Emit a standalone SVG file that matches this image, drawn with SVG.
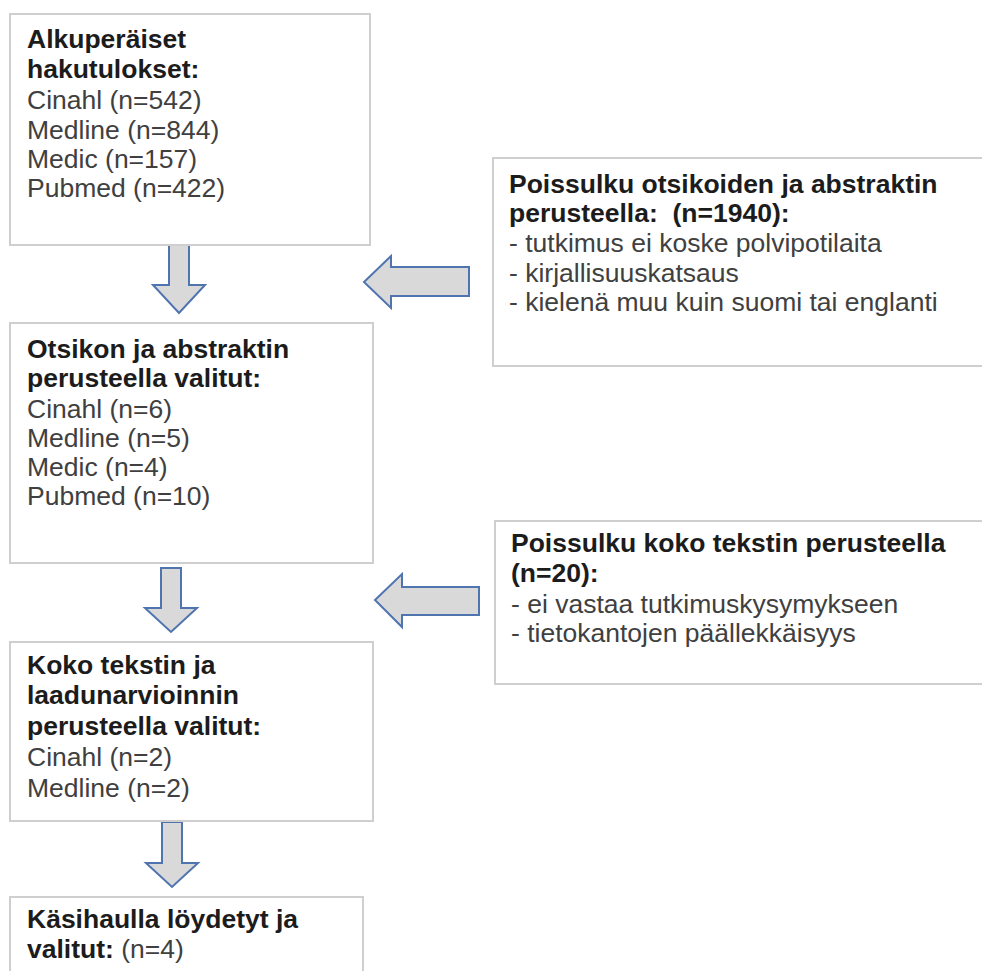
<svg xmlns="http://www.w3.org/2000/svg" width="982" height="971" viewBox="0 0 982 971">
<style>
.box{fill:#ffffff;stroke:#cfcfcf;stroke-width:2}
.arr{fill:#d9d9d9;stroke:#4f74b0;stroke-width:2;stroke-linejoin:miter}
text{font-family:"Liberation Sans",Arial,sans-serif;font-size:26.5px}
.b{font-weight:bold;fill:#1c1c1c}
.r{fill:#404040}
</style>
<rect width="982" height="971" fill="#ffffff"/>
<g id="connectors">
<polygon class="arr" points="169,245 189,245 189,285 205,285 179,313 153,285 169,285"/>
<polygon class="arr" points="161,568 181,568 181,608 197,608 171,632 145,608 161,608"/>
<polygon class="arr" points="162,822 182,822 182,863 198,863 172,887 146,863 162,863"/>
<polygon class="arr" points="469,267 469,296 391,296 391,308 364,282 391,256 391,267"/>
<polygon class="arr" points="479,587 479,615 402,615 402,627 375,600 402,574 402,587"/>
</g>
<g id="n1">
<rect class="box" x="10" y="14" width="360" height="231"/>
<text x="27" y="48" class="b">Alkuperäiset</text>
<text x="27" y="78" class="b">hakutulokset:</text>
<text x="27" y="109" class="r">Cinahl (n=542)</text>
<text x="27" y="139" class="r">Medline (n=844)</text>
<text x="27" y="168" class="r">Medic (n=157)</text>
<text x="27" y="197" class="r">Pubmed (n=422)</text>
</g>
<g id="n2">
<rect class="box" x="10" y="323" width="363" height="240"/>
<text x="27" y="358" class="b">Otsikon ja abstraktin</text>
<text x="27" y="387" class="b">perusteella valitut:</text>
<text x="27" y="418" class="r">Cinahl (n=6)</text>
<text x="27" y="447" class="r">Medline (n=5)</text>
<text x="27" y="476" class="r">Medic (n=4)</text>
<text x="27" y="505" class="r">Pubmed (n=10)</text>
</g>
<g id="n3">
<rect class="box" x="10" y="642" width="363" height="179"/>
<text x="27" y="674" class="b">Koko tekstin ja</text>
<text x="27" y="704" class="b">laadunarvioinnin</text>
<text x="27" y="735" class="b">perusteella valitut:</text>
<text x="27" y="766" class="r">Cinahl (n=2)</text>
<text x="27" y="797" class="r">Medline (n=2)</text>
</g>
<g id="n4">
<rect class="box" x="10" y="897" width="353" height="120"/>
<text x="27" y="928" class="b">Käsihaulla löydetyt ja</text>
<text x="27" y="958"><tspan class="b">valitut:</tspan><tspan class="r"> (n=4)</tspan></text>
</g>
<g id="x1">
<rect class="box" x="493" y="158" width="520" height="208"/>
<text x="509" y="193" class="b">Poissulku otsikoiden ja abstraktin</text>
<text x="509" y="222" class="b" xml:space="preserve">perusteella:  (n=1940):</text>
<text x="509" y="252" class="r">- tutkimus ei koske polvipotilaita</text>
<text x="509" y="282" class="r">- kirjallisuuskatsaus</text>
<text x="509" y="311" class="r">- kielenä muu kuin suomi tai englanti</text>
</g>
<g id="x2">
<rect class="box" x="495" y="521" width="520" height="163"/>
<text x="511" y="552" class="b">Poissulku koko tekstin perusteella</text>
<text x="511" y="582" class="b">(n=20):</text>
<text x="511" y="613" class="r">- ei vastaa tutkimuskysymykseen</text>
<text x="511" y="642" class="r">- tietokantojen päällekkäisyys</text>
</g>
</svg>
